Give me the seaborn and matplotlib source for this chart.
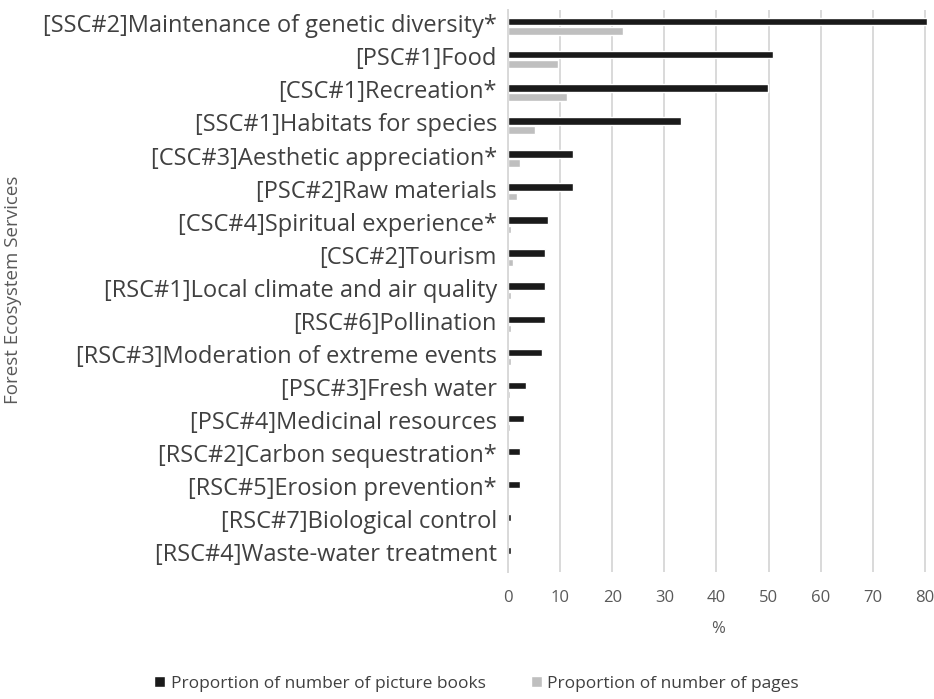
import pandas as pd
import matplotlib.pyplot as plt
import matplotlib.transforms as mtransforms
import seaborn as sns

# categories, top to bottom
services = [
    "[SSC#2]Maintenance of genetic diversity*",
    "[PSC#1]Food",
    "[CSC#1]Recreation*",
    "[SSC#1]Habitats for species",
    "[CSC#3]Aesthetic appreciation*",
    "[PSC#2]Raw materials",
    "[CSC#4]Spiritual experience*",
    "[CSC#2]Tourism",
    "[RSC#1]Local climate and air quality",
    "[RSC#6]Pollination",
    "[RSC#3]Moderation of extreme events",
    "[PSC#3]Fresh water",
    "[PSC#4]Medicinal resources",
    "[RSC#2]Carbon sequestration*",
    "[RSC#5]Erosion prevention*",
    "[RSC#7]Biological control",
    "[RSC#4]Waste-water treatment",
]
books = [80.5, 50.9, 49.8, 33.2, 12.4, 12.4, 7.6, 7.1, 7.1, 7.1, 6.5, 3.5, 3.0, 2.3, 2.3, 0.5, 0.5]
pages = [22.1, 9.5, 11.3, 5.2, 2.2, 1.8, 0.6, 1.0, 0.6, 0.5, 0.5, 0.3, 0.3, 0.1, 0.1, 0.05, 0.05]
series = ["Proportion of number of picture books", "Proportion of number of pages"]
xticks = [0, 10, 20, 30, 40, 50, 60, 70, 80]

df = pd.concat([
    pd.DataFrame({"service": services, "value": books, "series": series[0]}),
    pd.DataFrame({"service": services, "value": pages, "series": series[1]}),
])

sns.set_style("white")
plt.rcParams["font.family"] = ["Open Sans", "DejaVu Sans"]

fig, ax = plt.subplots(figsize=(9.34, 6.99), dpi=100)
sns.barplot(data=df, y="service", x="value", hue="series", orient="h",
            palette=["#1a1a1a", "#bfbfbf"], width=0.56, gap=0.2, ax=ax)

ax.set_xlim(0, 80.5)
ax.set_xticks(xticks)
ax.xaxis.grid(True, color="#d9d9d9", linewidth=1.4)
ax.set_axisbelow(True)
for s in ["top", "right", "bottom"]:
    ax.spines[s].set_visible(False)
ax.spines["left"].set_color("#d9d9d9")
ax.spines["left"].set_linewidth(1.4)
ax.tick_params(axis="y", labelsize=17, colors="#404040", length=0, pad=8)
ax.tick_params(axis="x", labelsize=12, colors="#595959", length=0, pad=13)
ax.set_xlabel("%", fontsize=12, color="#595959", labelpad=11)
ax.set_ylabel("")
# category labels sit a little above the row centre, as in the original
shift = mtransforms.ScaledTranslation(0, 3 / 100, fig.dpi_scale_trans)
for lab in ax.get_yticklabels():
    lab.set_transform(lab.get_transform() + shift)

fig.text(13 / 934, 0.585, "Forest Ecosystem Services", rotation=90, ha="center",
         va="center", fontsize=13.5, color="#595959")

ax.legend(loc="center", bbox_to_anchor=(0.51, 0.022), bbox_transform=fig.transFigure,
          ncol=2, frameon=False, fontsize=12.5, handlelength=0.65, handleheight=0.65,
          columnspacing=2.6, handletextpad=0.3, labelcolor="#404040")

plt.subplots_adjust(left=0.544, right=0.993, top=0.986, bottom=0.182)
plt.savefig("out.png", dpi=100)
